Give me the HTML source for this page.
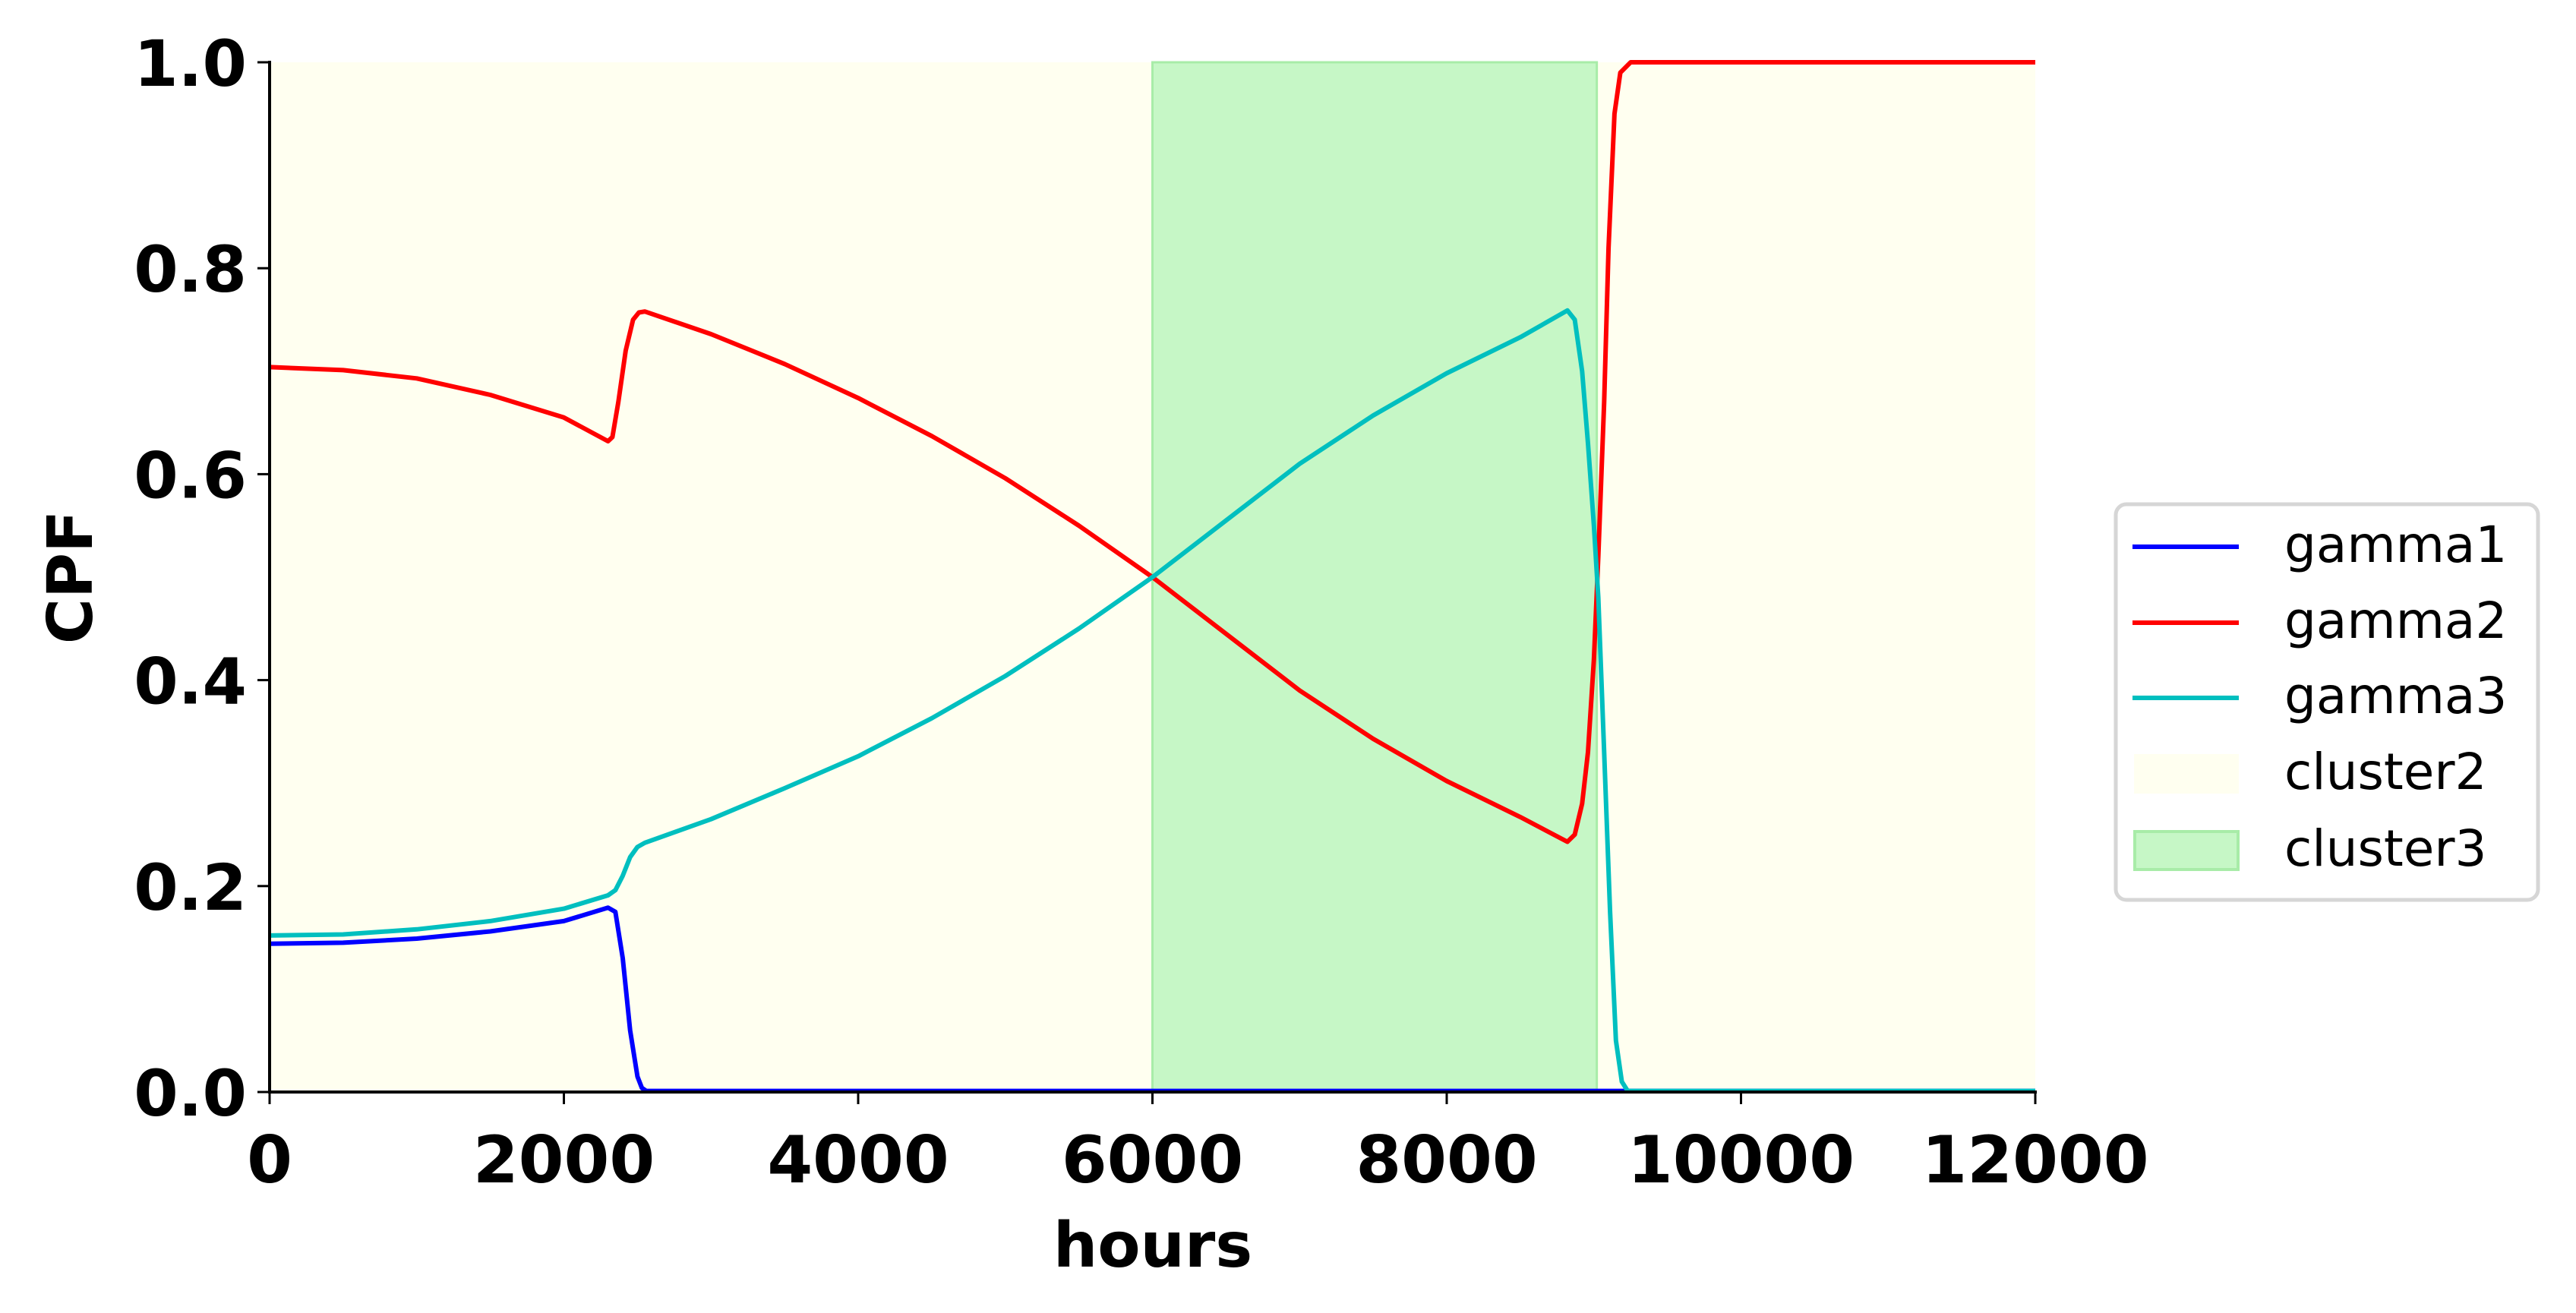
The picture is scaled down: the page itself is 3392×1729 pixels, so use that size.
<!DOCTYPE html>
<html><head><meta charset="utf-8"><style>
html,body{margin:0;padding:0;background:#fff;}
svg{display:block;font-family:"DejaVu Sans","Liberation Sans",sans-serif;}
</style></head><body>
<svg id="chart" width="3392" height="1729" viewBox="0 0 3392 1729" xmlns="http://www.w3.org/2000/svg">
<g id="plot"></g>
</svg>
<script>
const xTicks = [0,2000,4000,6000,8000,10000,12000];
const yTicks = [0.0,0.2,0.4,0.6,0.8,1.0];
const yTickLabels = ["0.0","0.2","0.4","0.6","0.8","1.0"];
const cluster2Span = [0,12000];
const cluster3Span = [6000,9020];
const g1x = [0,500,1000,1500,2000,2300,2350,2400,2450,2500,2530,2560,3000,12000];
const g1y = [0.144,0.145,0.149,0.156,0.166,0.179,0.175,0.13,0.06,0.015,0.004,0.001,0.001,0.001];
const g2x = [0,500,1000,1500,2000,2300,2330,2370,2420,2470,2510,2550,3000,3500,4000,4500,5000,5500,6000,6500,7000,7500,8000,8500,8820,8870,8920,8960,9000,9030,9070,9100,9140,9180,9250,12000];
const g2y = [0.704,0.701,0.693,0.677,0.655,0.632,0.636,0.67,0.72,0.75,0.757,0.758,0.736,0.707,0.674,0.637,0.596,0.55,0.5,0.445,0.39,0.343,0.302,0.267,0.243,0.25,0.28,0.33,0.42,0.52,0.67,0.82,0.95,0.99,1.0,1.0];
const g3x = [0,500,1000,1500,2000,2300,2350,2400,2450,2500,2550,3000,3500,4000,4500,5000,5500,6000,6500,7000,7500,8000,8500,8820,8870,8920,8960,9000,9030,9070,9110,9150,9190,9230,12000];
const g3y = [0.152,0.153,0.158,0.166,0.178,0.191,0.196,0.21,0.228,0.238,0.242,0.265,0.295,0.326,0.363,0.404,0.45,0.5,0.555,0.61,0.657,0.698,0.733,0.759,0.75,0.70,0.63,0.55,0.48,0.33,0.175,0.05,0.01,0.001,0.001];

const L=355,R=2680,T=82,B=1438;
const NS="http://www.w3.org/2000/svg";
const sx=v=>L+(v-0)/(12000-0)*(R-L);
const sy=v=>B-(v-0)/(1-0)*(B-T);
const plot=document.getElementById('plot');
function mk(tag,attrs,parent){const e=document.createElementNS(NS,tag);for(const k in attrs)e.setAttribute(k,attrs[k]);(parent||plot).appendChild(e);return e;}

let r=mk('rect',{x:sx(cluster2Span[0]),y:T,width:sx(cluster2Span[1])-sx(cluster2Span[0]),height:B-T,fill:'#fffff0'});


r=mk('rect',{x:sx(cluster3Span[0]),y:T,width:sx(cluster3Span[1])-sx(cluster3Span[0]),height:B-T,fill:'#c6f7c6',stroke:'#a8eca8','stroke-width':3});



function line(xs,ys,color,name){
  const p=xs.map((x,i)=>sx(x).toFixed(1)+','+sy(ys[i]).toFixed(1)).join(' ');
  const e=mk('polyline',{points:p,fill:'none',stroke:color,'stroke-width':6,'stroke-linejoin':'round'});
  
  
}
line(g1x,g1y,'#0000ff','gamma1-line');
line(g2x,g2y,'#ff0000','gamma2-line');
line(g3x,g3y,'#00bfbf','gamma3-line');

let a=mk('line',{x1:L,y1:T-2,x2:L,y2:B+2,stroke:'#000','stroke-width':4});


a=mk('line',{x1:L-2,y1:B,x2:R+2,y2:B,stroke:'#000','stroke-width':4});



xTicks.forEach(v=>{
  const t=mk('line',{x1:sx(v),y1:B,x2:sx(v),y2:B+16,stroke:'#000','stroke-width':3});
  
  
  const tx=mk('text',{x:sx(v),y:1557,'text-anchor':'middle','font-size':86,'font-weight':'bold'});
  tx.textContent=String(v);
  
  
});
yTicks.forEach((v,i)=>{
  const t=mk('line',{x1:L-16,y1:sy(v),x2:L,y2:sy(v),stroke:'#000','stroke-width':3});
  
  
  const tx=mk('text',{x:325,y:sy(v)+31,'text-anchor':'end','font-size':84,'font-weight':'bold'});
  tx.textContent=yTickLabels[i];
  
  
});
let lab=mk('text',{x:1518,y:1668,'text-anchor':'middle','font-size':82,'font-weight':'bold'});
lab.textContent='hours';


lab=mk('text',{x:0,y:0,'text-anchor':'middle','font-size':82,'font-weight':'bold',transform:'translate(121,760) rotate(-90)'});
lab.textContent='CPF';



// legend
const lg=mk('g',{});


mk('rect',{x:2786,y:664,width:556,height:521,rx:14,fill:'#fff',stroke:'#d6d6d6','stroke-width':5},lg);
const legNames=['gamma1','gamma2','gamma3','cluster2','cluster3'];
const legY=[720,820,919,1019,1120];
legNames.forEach((n,i)=>{
  const y=legY[i];
  let h;
  if(i===0||i===1||i===2){
    h=mk('line',{x1:2808,y1:y,x2:2948,y2:y,stroke:['#0000ff','#ff0000','#00bfbf'][i],'stroke-width':6},lg);
  } else if(i===3){
    h=mk('rect',{x:2810,y:y-26,width:138,height:52,fill:'#fffff0'},lg);
  } else {
    h=mk('rect',{x:2811,y:y-25,width:136,height:50,fill:'#c6f7c6',stroke:'#a8eca8','stroke-width':4},lg);
  }
  
  
  const t=mk('text',{x:3008,y:y+20,'font-size':66},lg);
  t.textContent=n;
  
  
});
</script>
</body></html>
